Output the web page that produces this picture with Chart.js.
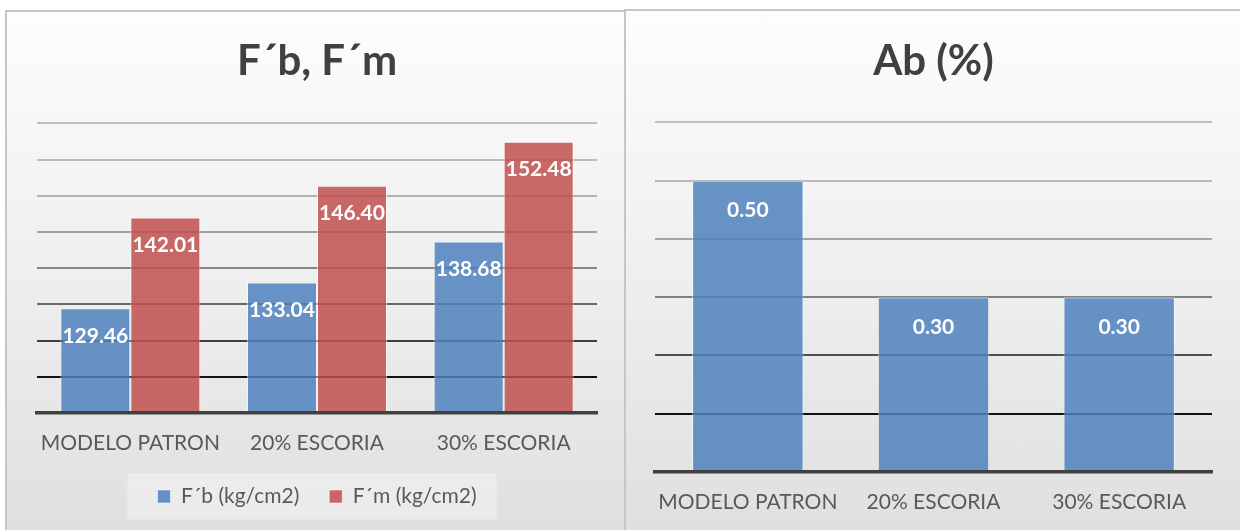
<!DOCTYPE html>
<html>
<head>
<meta charset="utf-8">
<script src="https://cdn.jsdelivr.net/npm/chart.js@4.4.0/dist/chart.umd.min.js"></script>
<style>
  html, body { margin: 0; padding: 0; width: 1240px; height: 530px; overflow: hidden; background: #ffffff; }
  .panel {
    position: absolute; box-sizing: border-box;
    background: linear-gradient(180deg, #fdfdfd 0%, #f6f6f6 25%, #eaeaea 65%, #dfdfdf 100%);
    border: 2px solid #c6c6c6; border-bottom: none;
  }
  #panelLeft  { left: 5px;   top: 10px; width: 621px; height: 530px; }
  #panelRight { left: 624px; top: 9px;  width: 630px; height: 531px; border-right: none; }
  .wrap { position: absolute; top: 0; height: 530px; }
  #wrapLeft  { left: 0;     width: 625px; }
  #wrapRight { left: 626px; width: 614px; }
</style>
</head>
<body>
<div class="panel" id="panelLeft"></div>
<div class="panel" id="panelRight"></div>
<div class="wrap" id="wrapLeft"><canvas id="chartLeft"></canvas></div>
<div class="wrap" id="wrapRight"><canvas id="chartRight"></canvas></div>
<script>
// Categories and measured values
const categories = ['MODELO PATRON', '20% ESCORIA', '30% ESCORIA'];
const fbValues = [129.46, 133.04, 138.68];   // F´b (kg/cm2)
const fmValues = [142.01, 146.40, 152.48];   // F´m (kg/cm2)
const abValues = [0.50, 0.30, 0.30];         // Ab (%)

const seriesNames = ['F\u00B4b (kg/cm2)', 'F\u00B4m (kg/cm2)'];
const titleLeft = 'F\u00B4b, F\u00B4m';
const titleRight = 'Ab (%)';

const FONT = 'Lato, Carlito, Calibri, "Open Sans", sans-serif';
const BLUE = 'rgba(79,129,189,0.85)';
const RED = 'rgba(192,80,77,0.85)';

// Gridlines fade from near-black at the bottom to light grey at the top
function gridColor(count) {
  return ctx => {
    const i = ctx.index;
    if (i === 0) return 'rgba(0,0,0,0)';
    const t = (i - 1) / Math.max(1, count - 2);
    const g = Math.round(17 + 175 * (1 - (1 - t) * (1 - t)));
    return `rgb(${g},${g},${g})`;
  };
}

// White value labels inside the top of each bar
const valueLabels = {
  id: 'valueLabels',
  afterDatasetsDraw(chart, args, opts) {
    const ctx = chart.ctx;
    ctx.save();
    ctx.font = `bold ${opts.size}px ${FONT}`;
    ctx.fillStyle = '#ffffff';
    ctx.textAlign = 'center';
    ctx.textBaseline = 'middle';
    chart.data.datasets.forEach((ds, i) => {
      chart.getDatasetMeta(i).data.forEach((bar, j) => {
        ctx.fillText(ds.data[j].toFixed(2), bar.x, bar.y + opts.offset);
      });
    });
    ctx.restore();
  }
};

// Light box behind the legend entries
const legendBackdrop = {
  id: 'legendBackdrop',
  beforeDraw(chart) {
    const lg = chart.legend;
    if (!lg || !lg.options.display || !lg.legendHitBoxes || !lg.legendHitBoxes.length) return;
    const hb = lg.legendHitBoxes;
    const first = hb[0], last = hb[hb.length - 1];
    const cy = first.top + first.height / 2;
    const ctx = chart.ctx;
    ctx.save();
    ctx.fillStyle = 'rgba(255,255,255,0.35)';
    ctx.fillRect(first.left - 30, cy - 23, (last.left + last.width + 20) - (first.left - 30), 46);
    ctx.restore();
  }
};

function baseScales(min, max, step, count) {
  return {
    x: {
      grid: { display: false, drawTicks: false },
      border: { display: true, color: '#404040', width: 3.5, z: 1 },
      ticks: { color: '#595959', font: { family: FONT, size: 21 }, padding: 18, maxRotation: 0 },
      afterFit(scale) { scale.height = 43; }
    },
    y: {
      min: min, max: max,
      ticks: { display: false, stepSize: step },
      border: { display: false },
      grid: { color: gridColor(count), lineWidth: 2, drawTicks: false }
    }
  };
}

function build() {
  new Chart(document.getElementById('chartLeft'), {
    type: 'bar',
    data: {
      labels: categories,
      datasets: [
        { label: seriesNames[0], data: fbValues, backgroundColor: BLUE, borderColor: 'rgba(255,255,255,0.5)', borderWidth: 1, categoryPercentage: 0.75, barPercentage: 1.0 },
        { label: seriesNames[1], data: fmValues, backgroundColor: RED, borderColor: 'rgba(255,255,255,0.5)', borderWidth: 1, categoryPercentage: 0.75, barPercentage: 1.0 }
      ]
    },
    options: {
      responsive: true, maintainAspectRatio: false, animation: false,
      layout: { padding: { left: 37, right: 28, top: 0, bottom: 13 } },
      scales: baseScales(115, 155, 5, 9),
      plugins: {
        title: { display: true, text: titleLeft, color: '#404040', font: { family: FONT, size: 42, weight: 'bold' }, padding: { top: 36, bottom: 37 } },
        legend: {
          display: true, position: 'bottom',
          labels: { color: '#595959', font: { family: FONT, size: 21 }, boxWidth: 13, boxHeight: 13, padding: 30 }
        },
        tooltip: { enabled: false },
        valueLabels: { size: 21, offset: 28 }
      }
    },
    plugins: [valueLabels, legendBackdrop]
  });

  new Chart(document.getElementById('chartRight'), {
    type: 'bar',
    data: {
      labels: categories,
      datasets: [
        { label: titleRight, data: abValues, backgroundColor: BLUE, borderColor: 'rgba(255,255,255,0.5)', borderWidth: 1, categoryPercentage: 0.6, barPercentage: 1.0 }
      ]
    },
    options: {
      responsive: true, maintainAspectRatio: false, animation: false,
      layout: { padding: { left: 29, right: 28, top: 0, bottom: 15 } },
      scales: baseScales(0, 0.6, 0.1, 7),
      plugins: {
        title: { display: true, text: titleRight, color: '#404040', font: { family: FONT, size: 42, weight: 'bold' }, padding: { top: 36, bottom: 36 } },
        legend: { display: false },
        tooltip: { enabled: false },
        valueLabels: { size: 21, offset: 30 }
      }
    },
    plugins: [valueLabels]
  });
}

Promise.all([
  document.fonts.load(`bold 42px ${FONT}`),
  document.fonts.load(`21px ${FONT}`)
]).catch(() => {}).then(build);
</script>
</body>
</html>
